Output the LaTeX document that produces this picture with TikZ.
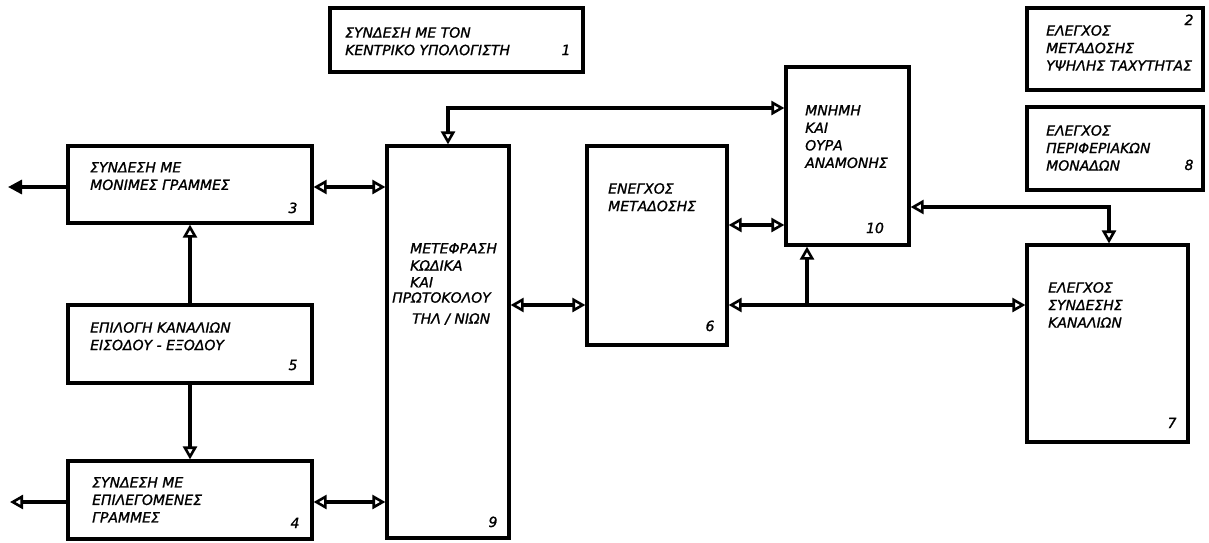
\documentclass[tikz,border=0pt]{standalone}
\usepackage{fontspec}
\setmainfont{DejaVu Sans}
\newfontfamily\lblfont{DejaVu Sans Oblique}[FakeBold=1.2]
\usetikzlibrary{arrows.meta}
\tikzset{
  blk/.style={draw, line width=3.2pt, inner sep=0pt},
  txt/.style={anchor=north west, inner sep=0pt, align=left, font=\lblfont\fontsize{14}{17.5}\selectfont},
  num/.style={anchor=base, inner sep=0pt, font=\lblfont\fontsize{14}{17}\selectfont},
  cn/.style={line width=3.2pt},
  >={Triangle[open, length=13pt, width=14pt, line width=2.6pt]}
}
\begin{document}
\begin{tikzpicture}[x=1pt,y=-1pt]
\useasboundingbox (0,0) rectangle (1209,542);
% boxes
\node[blk, minimum width=253pt, minimum height=64pt] (b1) at (456.5,40) {};
\node[blk, minimum width=176pt, minimum height=82pt] (b2) at (1115,49) {};
\node[blk, minimum width=176pt, minimum height=83pt] (b8) at (1115,148.5) {};
\node[blk, minimum width=123pt, minimum height=178pt] (b10) at (847.5,156) {};
\node[blk, minimum width=122pt, minimum height=392pt] (b9) at (448,342) {};
\node[blk, minimum width=140pt, minimum height=199pt] (b6) at (657,245.5) {};
\node[blk, minimum width=161pt, minimum height=197pt] (b7) at (1107.5,343.5) {};
\node[blk, minimum width=244pt, minimum height=77pt] (b3) at (190,184.5) {};
\node[blk, minimum width=244pt, minimum height=78pt] (b5) at (190,344) {};
\node[blk, minimum width=244pt, minimum height=78pt] (b4) at (190,500) {};
% texts
\node[txt] (t1) at (345,27) {ΣΥΝΔΕΣΗ ΜΕ ΤΟΝ\\ΚΕΝΤΡΙΚΟ ΥΠΟΛΟΓΙΣΤΗ};
\node[num] (n1) at (566,55) {1};
\node[txt] (t2) at (1046,25) {ΕΛΕΓΧΟΣ\\ΜΕΤΑΔΟΣΗΣ\\ΥΨΗΛΗΣ ΤΑΧΥΤΗΤΑΣ};
\node[num] (n2) at (1189,25) {2};
\node[txt] (t8) at (1046,125) {ΕΛΕΓΧΟΣ\\ΠΕΡΙΦΕΡΙΑΚΩΝ\\ΜΟΝΑΔΩΝ};
\node[num] (n8) at (1189,170) {8};
\node[txt] (t10) at (805,105) {ΜΝΗΜΗ\\ΚΑΙ\\ΟΥΡΑ\\ΑΝΑΜΟΝΗΣ};
\node[num] (n10) at (875,233) {10};
\node[txt] (t6) at (608,183) {ΕΝΕΓΧΟΣ\\ΜΕΤΑΔΟΣΗΣ};
\node[num] (n6) at (710,331) {6};
\node[txt] (t9a) at (410,243) {ΜΕΤΕΦΡΑΣΗ};
\node[txt] (t9b) at (410,260) {ΚΩΔΙΚΑ};
\node[txt] (t9c) at (410,277) {ΚΑΙ};
\node[txt] (t9d) at (392,292) {ΠΡΩΤΟΚΟΛΟΥ};
\node[txt] (t9e) at (412,313) {ΤΗΛ / ΝΙΩΝ};
\node[num] (n9) at (493,527) {9};
\node[txt] (t7) at (1048,282) {ΕΛΕΓΧΟΣ\\ΣΥΝΔΕΣΗΣ\\ΚΑΝΑΛΙΩΝ};
\node[num] (n7) at (1172,428) {7};
\node[txt] (t3) at (90,162) {ΣΥΝΔΕΣΗ ΜΕ\\ΜΟΝΙΜΕΣ ΓΡΑΜΜΕΣ};
\node[num] (n3) at (293,213) {3};
\node[txt] (t5) at (90,322) {ΕΠΙΛΟΓΗ ΚΑΝΑΛΙΩΝ\\ΕΙΣΟΔΟΥ - ΕΞΟΔΟΥ};
\node[num] (n5) at (293,370) {5};
\node[txt] (t4) at (92,477) {ΣΥΝΔΕΣΗ ΜΕ\\ΕΠΙΛΕΓΟΜΕΝΕΣ\\ΓΡΑΜΜΕΣ};
\node[num] (n4) at (295,528) {4};
% connectors
\coordinate (e3) at (8,187);
\draw[cn,-{Triangle[length=14pt,width=14pt]}] (b3.west |- e3) -- (e3);
\draw[cn,<->] (b3.east |- e3) -- (b9.west |- e3);
\draw[cn,->] (b5.north) -- (b3.south);
\draw[cn,->] (b5.south) -- (b4.north);
\coordinate (e4) at (10,502);
\draw[cn,->] (b4.west |- e4) -- (e4);
\draw[cn,<->] (b4.east |- e4) -- (b9.west |- e4);
\coordinate (j1) at (448,108);
\draw[cn,<->] (b9.north) -- (j1) -- (b10.west |- j1);
\coordinate (y1) at (0,225);
\draw[cn,<->] (b6.east |- y1) -- (b10.west |- y1);
\coordinate (y2) at (0,305);
\draw[cn,<->] (b9.east |- y2) -- (b6.west |- y2);
\draw[cn,<->] (b6.east |- y2) -- (b7.west |- y2);
\coordinate (j2) at (807,305);
\draw[cn,->] (j2) -- (b10.south -| j2);
\coordinate (j3) at (1109,207);
\draw[cn,<->] (b10.east |- j3) -- (j3) -- (b7.north -| j3);
\end{tikzpicture}
\end{document}
